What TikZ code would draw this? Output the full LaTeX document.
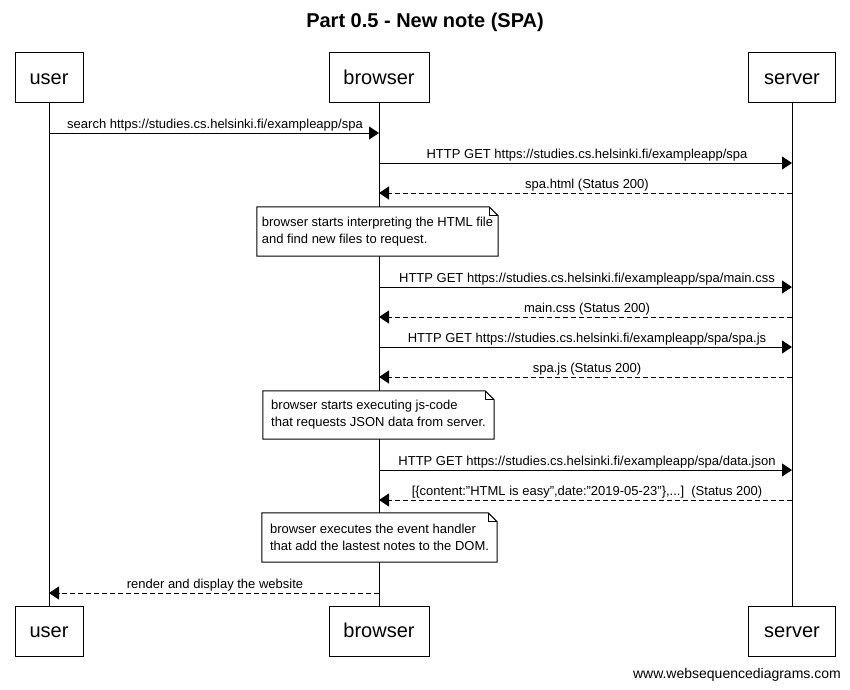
\documentclass[tikz,border=0pt]{standalone}
\usepackage{fontspec}
\setmainfont{Liberation Sans}
\usetikzlibrary{arrows.meta,calc}
\begin{document}
\begin{tikzpicture}[x=1pt,y=-1pt,
  actor/.style={draw, fill=white, line width=1pt, minimum height=50, inner sep=0pt, text height=14pt, text depth=1pt, font=\fontsize{20}{24}\selectfont},
  lifeline/.style={line width=1pt},
  msg/.style={anchor=base, inner sep=0pt, font=\fontsize{13}{15}\selectfont},
  req/.style={line width=1pt, -{Triangle[length=10pt,width=13pt]}},
  resp/.style={req, dash pattern=on 5pt off 3pt},
  notetext/.style={align=left, inner sep=0pt, font=\fontsize{13}{17}\selectfont},
  noteline/.style={draw, fill=white, line width=1pt, line join=miter}
]
\useasboundingbox (0,0) rectangle (850,689);
\fill[white] (0,0) rectangle (850,689);

% title
\node[font=\bfseries\fontsize{20}{24}\selectfont] (title) at (425,22) {Part 0.5 - New note (SPA)};

% actors
\node[actor, minimum width=68] (ut) at (49,77.5) {user};
\node[actor, minimum width=100] (bt) at (379,77.5) {browser};
\node[actor, minimum width=87] (st) at (792,77.5) {server};
\node[actor, minimum width=68] (ub) at (49,631) {user};
\node[actor, minimum width=100] (bb) at (379,631) {browser};
\node[actor, minimum width=87] (sb) at (792,631) {server};

% lifelines
\draw[lifeline] (ut.south) -- (ub.north);
\draw[lifeline] (bt.south) -- (bb.north);
\draw[lifeline] (st.south) -- (sb.north);

% notes
\node[notetext, minimum width=241, minimum height=49] (n1) at (377.5,231.5) {browser starts interpreting the HTML file\\and find new files to request.};
\node[notetext, minimum width=231, minimum height=48] (n2) at (378.5,415) {browser starts executing js-code\\that requests JSON data from server.};
\node[notetext, minimum width=235, minimum height=49] (n3) at (379.5,537.5) {browser executes the event handler\\that add the lastest notes to the DOM.};
\foreach \n in {n1,n2,n3}{
  \draw[noteline] (\n.north west) -- ([xshift=-9pt]\n.north east) -- ([yshift=-9pt]\n.north east) -- (\n.south east) -- (\n.south west) -- cycle;
  \draw[line width=1pt] ([xshift=-9pt]\n.north east) -- ([xshift=-9pt,yshift=-9pt]\n.north east) -- ([yshift=-9pt]\n.north east);
}
\node[notetext] (n1t) at (n1) {browser starts interpreting the HTML file\\and find new files to request.};
\node[notetext] (n2t) at (n2) {browser starts executing js-code\\that requests JSON data from server.};
\node[notetext] (n3t) at (n3) {browser executes the event handler\\that add the lastest notes to the DOM.};

% messages
\draw[req] (ut |- 0,133) -- (bt |- 0,133);
\node[msg] (m1) at (215,128.5) {search https://studies.cs.helsinki.fi/exampleapp/spa};

\draw[req] (bt |- 0,163) -- (st |- 0,163);
\node[msg] (m2) at (587,158.5) {HTTP GET https://studies.cs.helsinki.fi/exampleapp/spa};

\draw[resp] (st |- 0,193) -- (bt |- 0,193);
\node[msg] (m3) at (587,188.5) {spa.html (Status 200)};

\draw[req] (bt |- 0,287) -- (st |- 0,287);
\node[msg] (m4) at (587,282.5) {HTTP GET https://studies.cs.helsinki.fi/exampleapp/spa/main.css};

\draw[resp] (st |- 0,317) -- (bt |- 0,317);
\node[msg] (m5) at (587,312.5) {main.css (Status 200)};

\draw[req] (bt |- 0,347) -- (st |- 0,347);
\node[msg] (m6) at (587,342.5) {HTTP GET https://studies.cs.helsinki.fi/exampleapp/spa/spa.js};

\draw[resp] (st |- 0,377) -- (bt |- 0,377);
\node[msg] (m7) at (587,372.5) {spa.js (Status 200)};

\draw[req] (bt |- 0,470) -- (st |- 0,470);
\node[msg] (m8) at (587,465.5) {HTTP GET https://studies.cs.helsinki.fi/exampleapp/spa/data.json};

\draw[resp] (st |- 0,500) -- (bt |- 0,500);
\node[msg] (m9) at (587,495.5) {[\{content:"HTML is easy",date:"2019-05-23"\},...]\ \ (Status 200)};

\draw[resp] (bt |- 0,593) -- (ut |- 0,593);
\node[msg] (m10) at (215,588.5) {render and display the website};

% footer
\node[anchor=east, inner sep=0pt, font=\fontsize{14}{16}\selectfont] (foot) at (841,675) {www.websequencediagrams.com};
\end{tikzpicture}
\end{document}
